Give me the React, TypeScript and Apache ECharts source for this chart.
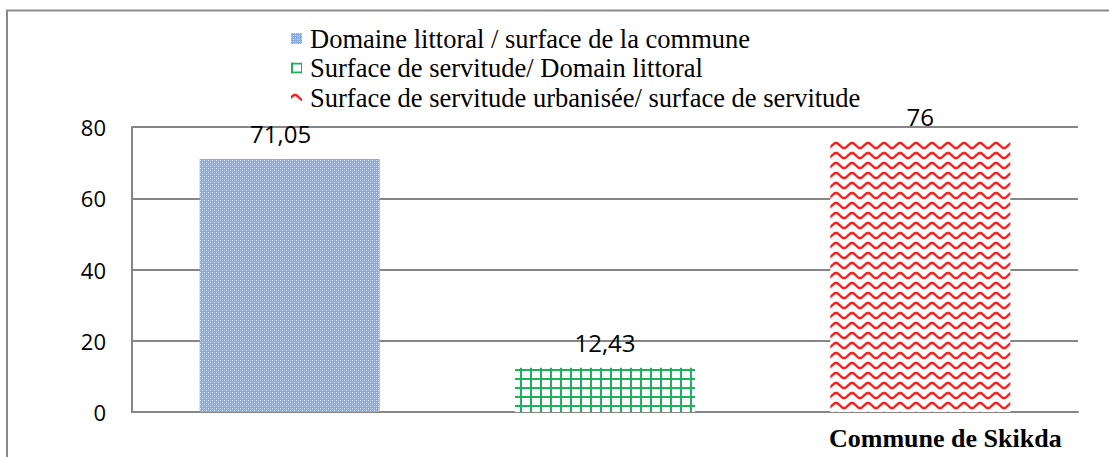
import React, { useEffect, useRef } from "react";
import * as echarts from "echarts";

const categories = ["Domaine littoral", "Surface de servitude", "Commune de Skikda"];
const seriesNames = [
  "Domaine littoral / surface de la commune",
  "Surface de servitude/ Domain littoral",
  "Surface de servitude urbanisée/ surface de servitude",
];
const values = [71.05, 12.43, 76];
const yTicks = [0, 20, 40, 60, 80];

const SERIF = "Liberation Serif";
const SANS = "Open Sans";

function makeTile(w: number, h: number, draw: (ctx: CanvasRenderingContext2D) => void) {
  const c = document.createElement("canvas");
  c.width = w;
  c.height = h;
  const ctx = c.getContext("2d") as CanvasRenderingContext2D;
  draw(ctx);
  return { image: c, repeat: "repeat", imageWidth: w, imageHeight: h } as any;
}

export default function App() {
  const ref = useRef<HTMLDivElement>(null);
  useEffect(() => {
    if (!ref.current) return;
    const chart = echarts.init(ref.current, undefined, { renderer: "svg" });

    const blue = makeTile(4, 4, (ctx) => {
      ctx.fillStyle = "#86abe2";
      ctx.fillRect(0, 0, 4, 4);
      ctx.fillStyle = "#d6e3f6";
      ctx.fillRect(0, 0, 1, 1);
      ctx.fillRect(2, 2, 1, 1);
      ctx.fillStyle = "#b0c9ee";
      ctx.fillRect(2, 0, 1, 1);
      ctx.fillRect(0, 2, 1, 1);
    });
    const green = makeTile(10, 9, (ctx) => {
      ctx.fillStyle = "#ffffff";
      ctx.fillRect(0, 0, 10, 9);
      ctx.fillStyle = "#1db35a";
      ctx.fillRect(0, 0, 2, 9);
      ctx.fillRect(0, 0, 10, 2);
    });
    const red = makeTile(16, 10, (ctx) => {
      ctx.fillStyle = "#ffffff";
      ctx.fillRect(0, 0, 16, 10);
      ctx.strokeStyle = "#ff1a1a";
      ctx.lineWidth = 2.4;
      ctx.beginPath();
      for (let x = -1; x <= 17; x += 0.5) {
        const y = 5.5 - 2.5 * Math.sin((2 * Math.PI * x) / 16);
        if (x === -1) ctx.moveTo(x, y);
        else ctx.lineTo(x, y);
      }
      ctx.stroke();
    });
    const fills = [blue, green, red];
    const labelOffsets = [[-9, 0], [0, 0], [0, 0]];

    const series = seriesNames.map((name, i) => ({
      name,
      type: "bar",
      barWidth: 180,
      barGap: "-100%",
      itemStyle: { color: fills[i] },
      data: values.map((v, j) => (j === i ? v : "-")),
      label: {
        show: true,
        position: "top",
        distance: 13,
        offset: labelOffsets[i],
        formatter: (p: any) => String(p.value).replace(".", ","),
        fontFamily: SANS,
        fontSize: 24,
        color: "#000",
      },
    }));

    chart.setOption({
      animation: false,
      backgroundColor: "#ffffff",
      graphic: [
        {
          type: "polyline",
          shape: { points: [[7, 457], [7, 10.5], [1109, 10.5]] },
          style: { stroke: "#898989", lineWidth: 2, fill: "none" },
          silent: true,
        },
      ],
      legend: {
        data: seriesNames,
        orient: "vertical",
        left: 291,
        top: 25,
        padding: 0,
        icon: "rect",
        itemWidth: 11,
        itemHeight: 11,
        itemGap: 2.5,
        selectedMode: false,
        textStyle: {
          fontFamily: SERIF,
          fontSize: 26.5,
          color: "#000",
          lineHeight: 22,
          padding: [0, 0, 0, 3],
        },
      },
      grid: { left: 132, right: 31, top: 127, bottom: 45 },
      xAxis: {
        type: "category",
        data: categories,
        axisLine: { show: true, lineStyle: { color: "#868686", width: 2 } },
        axisTick: { show: false },
        axisLabel: {
          formatter: (v: string, idx: number) => (idx === categories.length - 1 ? v : ""),
          fontFamily: SERIF,
          fontWeight: "bold",
          fontSize: 26,
          color: "#000",
          margin: 13,
          padding: [0, 0, 0, 50],
        },
      },
      yAxis: {
        type: "value",
        min: yTicks[0],
        max: yTicks[yTicks.length - 1],
        interval: 20,
        axisLine: { show: true, lineStyle: { color: "#868686", width: 2 } },
        axisTick: { show: false },
        splitLine: { lineStyle: { color: "#868686", width: 2 } },
        axisLabel: { fontFamily: SANS, fontSize: 22, color: "#000", margin: 26 },
      },
      series,
    });
    return () => chart.dispose();
  }, []);
  return (
    <div
      ref={ref}
      style={{ position: "absolute", left: 0, top: 0, width: 1109, height: 457 }}
    />
  );
}
